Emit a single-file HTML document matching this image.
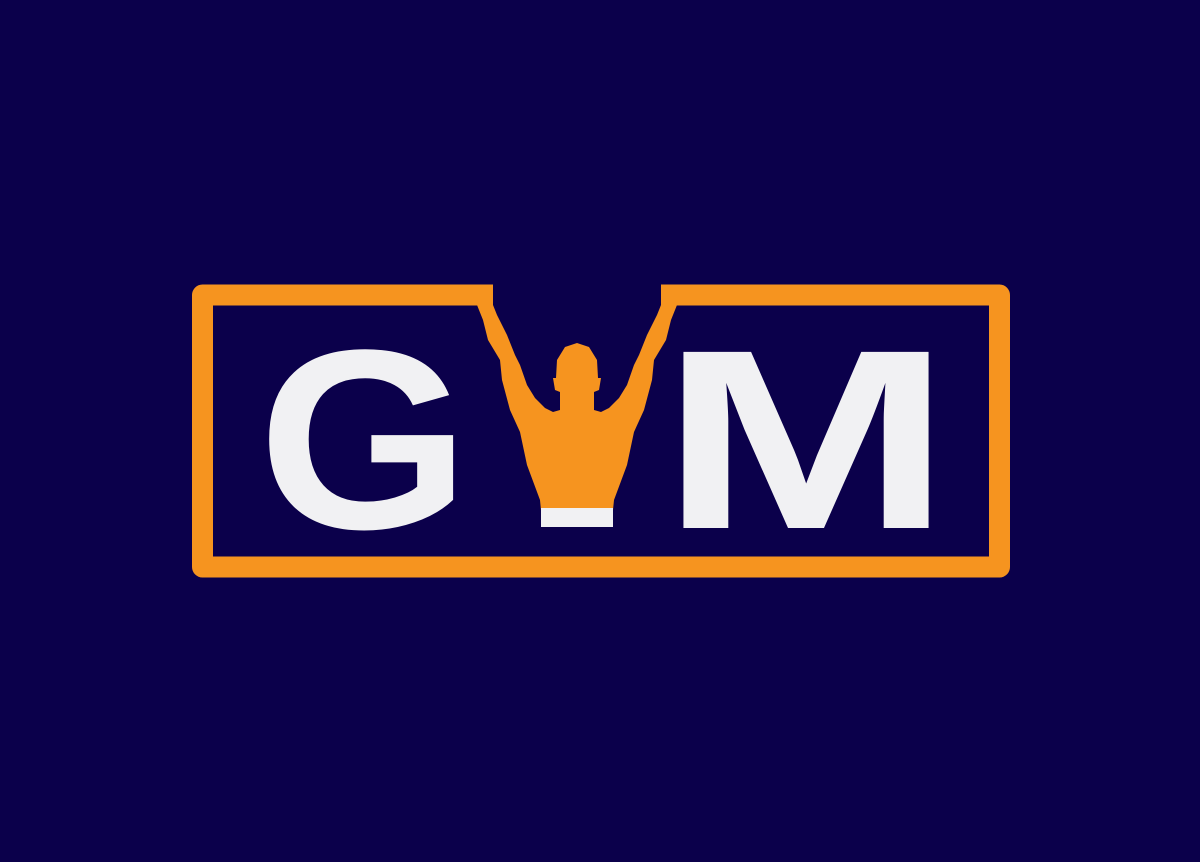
<!DOCTYPE html>
<html><head><meta charset="utf-8"><style>
html,body{margin:0;padding:0;background:#0b004b;}
svg{display:block}
</style></head><body>
<svg width="1200" height="862" viewBox="0 0 1200 862">
<rect width="1200" height="862" fill="#0b004b"/>
<path d="M493 295 H202.5 V567 H999.5 V295 H661" fill="none" stroke="#f6941f" stroke-width="21" stroke-linejoin="round"/>
<text x="258" y="528" font-family="Liberation Sans, sans-serif" font-weight="bold" font-size="256" textLength="212" lengthAdjust="spacingAndGlyphs" fill="#f1f1f3">G</text>
<text x="660" y="528" font-family="Liberation Sans, sans-serif" font-weight="bold" font-size="256" textLength="292" lengthAdjust="spacingAndGlyphs" fill="#f1f1f3">M</text>
<path fill="#f6941f" d="
M477 296 L477 305 L483 320 L488 340 L500 360 L502 380 L510 410 L520 432 L527 465 L540 500 L541 510
L613 510 L614 500 L627 465 L634 432 L644 410 L652 380 L654 360 L666 340 L671 320 L677 305 L677 296
L661 296 L661 305 L657 315 L647 335 L639 355 L634 365 L627 385 L619 398 L609 408 L601 412 L594 410 L594 392
L599 390 L601 378 L598 378 L597 360 L589 347 L577 343 L565 347 L557 360 L556 378 L553 378 L555 390 L560 392
L560 410 L553 412 L545 408 L535 398 L527 385 L520 365 L515 355 L507 335 L497 315 L493 305 L493 296 Z"/>
<rect x="541" y="508" width="72" height="19" fill="#f1f1f3"/>
</svg>
</body></html>
